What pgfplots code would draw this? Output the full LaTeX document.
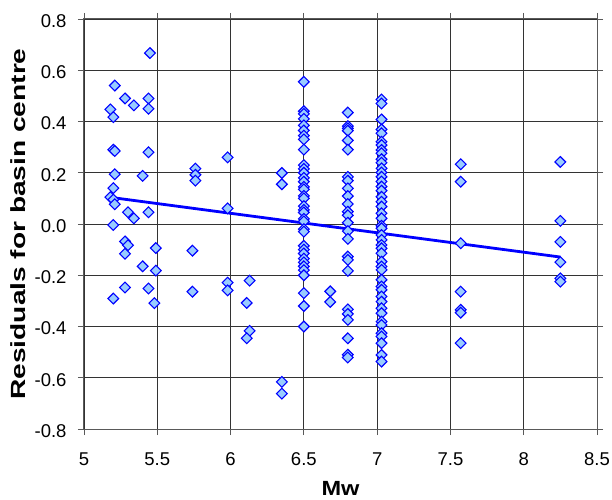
\documentclass[border=0pt]{standalone}
\usepackage{pgfplots}
\pgfplotsset{compat=1.18}
\usepackage{pgfplotstable}
\usepackage{fontspec}
\setmainfont{Liberation Sans}
\definecolor{mfill}{HTML}{99CCFF}
\definecolor{mline}{HTML}{0000FF}
\pgfplotstableread{
x y
5.45 0.667
5.21 0.54
5.28 0.49
5.34 0.463
5.44 0.49
5.44 0.45
5.18 0.447
5.20 0.417
5.20 0.29
5.21 0.285
5.44 0.28
5.21 0.194
5.40 0.188
5.76 0.216
5.76 0.192
5.76 0.169
5.98 0.26
5.20 0.14
5.18 0.105
5.20 0.095
5.21 0.077
5.30 0.046
5.34 0.022
5.44 0.046
5.98 0.061
5.20 -0.004
5.28 -0.068
5.30 -0.083
5.28 -0.116
5.49 -0.094
5.74 -0.104
5.40 -0.165
5.49 -0.182
5.28 -0.248
5.44 -0.252
5.20 -0.291
5.48 -0.309
5.74 -0.264
5.98 -0.229
5.98 -0.259
6.13 -0.221
6.11 -0.308
6.13 -0.417
6.11 -0.446
6.35 0.199
6.35 0.155
6.35 -0.616
6.35 -0.662
6.68 -0.263
6.68 -0.304
6.5 0.555
6.5 0.44
6.5 0.43
6.5 0.41
6.5 0.385
6.5 0.365
6.5 0.345
6.5 0.33
6.5 0.29
6.5 0.23
6.5 0.215
6.5 0.20
6.5 0.18
6.5 0.165
6.5 0.145
6.5 0.135
6.5 0.11
6.5 0.10
6.5 0.07
6.5 0.055
6.5 0.045
6.5 0.02
6.5 0.01
6.5 -0.02
6.5 -0.03
6.5 -0.085
6.5 -0.10
6.5 -0.115
6.5 -0.135
6.5 -0.15
6.5 -0.165
6.5 -0.18
6.5 -0.20
6.5 -0.27
6.5 -0.32
6.5 -0.40
6.8 0.435
6.8 0.382
6.8 0.373
6.8 0.364
6.8 0.326
6.8 0.29
6.8 0.184
6.8 0.169
6.8 0.139
6.8 0.109
6.8 0.078
6.8 0.048
6.8 0.034
6.8 0.005
6.8 -0.028
6.8 -0.058
6.8 -0.127
6.8 -0.14
6.8 -0.183
6.8 -0.333
6.8 -0.351
6.8 -0.374
6.8 -0.446
6.8 -0.51
6.8 -0.521
7.03 0.486
7.03 0.47
7.03 0.408
7.03 0.369
7.03 0.354
7.03 0.321
7.03 0.308
7.03 0.289
7.03 0.276
7.03 0.253
7.03 0.239
7.03 0.217
7.03 0.201
7.03 0.184
7.03 0.166
7.03 0.146
7.03 0.13
7.03 0.106
7.03 0.087
7.03 0.068
7.03 0.042
7.03 0.022
7.03 -0.007
7.03 -0.017
7.03 -0.043
7.03 -0.062
7.03 -0.082
7.03 -0.095
7.03 -0.114
7.03 -0.147
7.03 -0.166
7.03 -0.179
7.03 -0.218
7.03 -0.244
7.03 -0.257
7.03 -0.283
7.03 -0.303
7.03 -0.329
7.03 -0.348
7.03 -0.381
7.03 -0.394
7.03 -0.426
7.03 -0.439
7.03 -0.465
7.03 -0.511
7.03 -0.537
7.57 0.233
7.57 0.165
7.57 -0.075
7.57 -0.264
7.57 -0.335
7.57 -0.346
7.57 -0.465
8.25 0.242
8.25 0.012
8.25 -0.07
8.25 -0.149
8.25 -0.212
8.25 -0.225
}\resid
\begin{document}
\begin{tikzpicture}
\useasboundingbox (-84bp,-71bp) rectangle (528bp,429bp);
\begin{axis}[
  scale only axis,
  width=513bp, height=410bp,
  xmin=5, xmax=8.5, ymin=-0.8, ymax=0.8,
  xtick={5,5.5,6,6.5,7,7.5,8,8.5},
  ytick={-0.8,-0.6,-0.4,-0.2,0,0.2,0.4,0.6,0.8},
  y tick label style={/pgf/number format/fixed, /pgf/number format/fixed zerofill, /pgf/number format/precision=1},
  /pgf/number format/assume math mode=true,
  ticklabel style={font=\fontsize{18.5bp}{20bp}\selectfont},
  xticklabel style={anchor=north, yshift=-14bp},
  yticklabel style={anchor=east, xshift=-8bp, yshift=-2bp},
  tick align=outside,
  major tick length=6bp,
  tick style={black!65, line width=0.8bp},
  axis line style={black!65, line width=1bp},
  grid=major,
  grid style={black!80, line width=0.8bp},
  xlabel={\scalebox{1.15}[1]{Mw}},
  ylabel={\scalebox{1.37}[1]{Residuals for basin centre}},
  label style={font=\bfseries\fontsize{20.5bp}{22bp}\selectfont},
  xlabel style={at={(axis description cs:0.5,0)}, anchor=center, yshift=-59bp},
  ylabel style={at={(axis description cs:-0.1287,0.5)}, anchor=center},
]
\addplot[only marks, mark=square*, mark size=3.8bp,
  mark options={rotate=45, draw=mline, fill=mfill, line width=1.1bp}] table[x=x,y=y] {\resid};
\addplot[mline, line width=2.8bp, no marks] coordinates {(5.18,0.104) (8.25,-0.129)};
\end{axis}
\end{tikzpicture}
\end{document}
